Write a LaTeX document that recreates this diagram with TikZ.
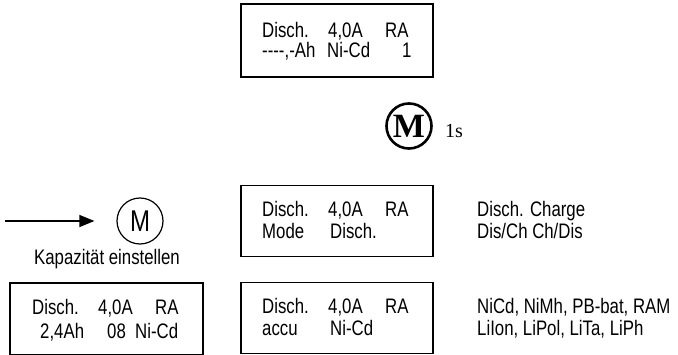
\documentclass[tikz,border=0pt]{standalone}
\usepackage{fontspec}
\setmainfont{Liberation Sans}[FakeStretch=0.8, Ligatures=TeXOff]
\newfontfamily\serifface{Liberation Serif}
\usetikzlibrary{arrows.meta}

\tikzset{
  lcd/.style={draw, line width=1.6pt, inner sep=0pt},
  lbl/.style={inner sep=0pt, anchor=base west, font=\fontsize{21}{21}\selectfont},
  btn/.style={draw, circle, line width=1.2pt, inner sep=0pt, minimum size=46pt,
              font=\fontsize{30}{30}\selectfont},
  btnbold/.style={draw, circle, line width=2.6pt, inner sep=0pt, minimum size=45pt,
                  font=\serifface\bfseries\fontsize{34}{34}\selectfont},
  arr/.style={line width=1.2pt, -{Triangle[length=15pt, width=12pt]}}
}

\begin{document}
\begin{tikzpicture}[x=1pt, y=-1pt]
\useasboundingbox (0,0) rectangle (678,355);

% display boxes
\node[lcd, minimum width=192pt, minimum height=73pt] (boxtop) at (337,40.5) {};
\node[lcd, minimum width=192pt, minimum height=71pt] (boxmode) at (337,221) {};
\node[lcd, minimum width=192pt, minimum height=71pt] (boxaccu) at (337,318) {};
\node[lcd, minimum width=193pt, minimum height=72pt] (boxcap) at (106.5,319) {};

% top display
\node[lbl] (t1a) at (262,38) {Disch.};
\node[lbl] (t1b) at (328,38) {4,0A};
\node[lbl] (t1c) at (385,38) {RA};
\node[lbl] (t2a) at (262,58) {----,-Ah};
\node[lbl] (t2b) at (327,58) {Ni-Cd};
\node[lbl] (t2c) at (402,58) {1};

% bold M button with hold time
\node[btnbold] (mbold) at (409,126) {M};
\node[inner sep=0pt, anchor=base west, font=\serifface\fontsize{20}{20}\selectfont] (hold) at (445,138) {1s};

% mode display
\node[lbl] (m1a) at (262,217) {Disch.};
\node[lbl] (m1b) at (328,217) {4,0A};
\node[lbl] (m1c) at (385,217) {RA};
\node[lbl] (m2a) at (262,239) {Mode};
\node[lbl] (m2b) at (330,239) {Disch.};
\node[lbl] (mopt1) at (477,217) {Disch. Charge};
\node[lbl] (mopt2) at (477,239) {Dis/Ch Ch/Dis};

% accu display
\node[lbl] (a1a) at (262,314) {Disch.};
\node[lbl] (a1b) at (328,314) {4,0A};
\node[lbl] (a1c) at (385,314) {RA};
\node[lbl] (a2a) at (262,336) {accu};
\node[lbl] (a2b) at (330,336) {Ni-Cd};
\node[lbl] (aopt1) at (477,314) {NiCd, NiMh, PB-bat, RAM};
\node[lbl] (aopt2) at (477,336) {LiIon, LiPol, LiTa, LiPh};

% capacity entry
\coordinate (start) at (5,221);
\node[btn] (mbtn) at (140,221) {M};
\draw[arr, shorten >=22pt] (start) -- (mbtn.west);
\node[inner sep=0pt, anchor=base, font=\fontsize{21}{21}\selectfont] (captxt) at (107,265) {Kapazität einstellen};

\node[lbl] (c1a) at (32,315) {Disch.};
\node[lbl] (c1b) at (98,315) {4,0A};
\node[lbl] (c1c) at (155,315) {RA};
\node[lbl] (c2a) at (40,339) {2,4Ah};
\node[lbl] (c2b) at (107,339) {08};
\node[lbl] (c2c) at (135,339) {Ni-Cd};
\end{tikzpicture}
\end{document}
